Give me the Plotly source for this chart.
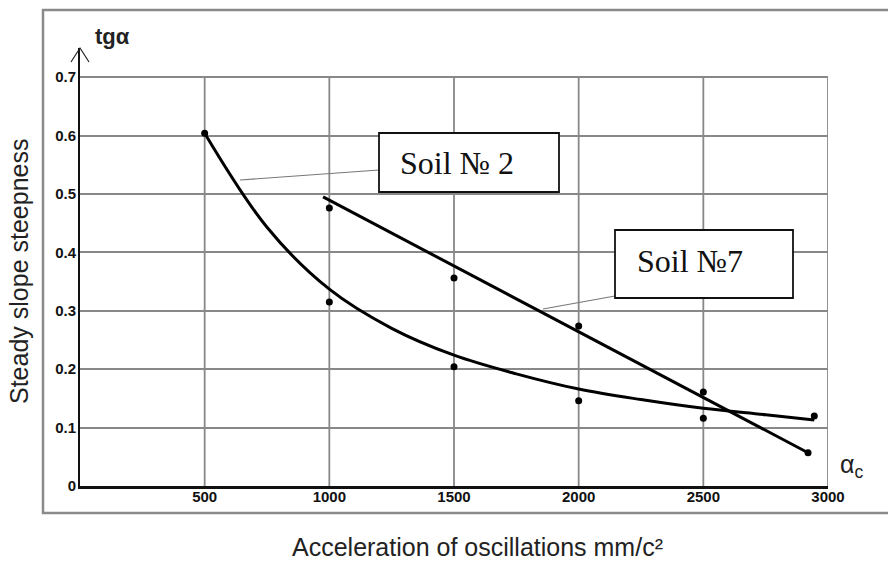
import plotly.graph_objects as go

# ---------------- data ----------------
x_ticks = [500, 1000, 1500, 2000, 2500, 3000]
x_tick_labels = ["500", "1000", "1500", "2000", "2500", "3000"]
y_ticks = [0, 0.1, 0.2, 0.3, 0.4, 0.5, 0.6, 0.7]
y_tick_labels = ["0", "0.1", "0.2", "0.3", "0.4", "0.5", "0.6", "0.7"]

# Soil No 2 measured points and its fitted curve
soil2_x = [500, 1000, 1500, 2000, 2500, 2945]
soil2_y = [0.604, 0.315, 0.204, 0.146, 0.116, 0.120]
soil2_fit_x = [500, 750, 1000, 1250, 1500, 1750, 2000, 2250, 2500, 2750, 2945]
soil2_fit_y = [0.604, 0.443, 0.337, 0.270, 0.224, 0.192, 0.166, 0.148, 0.133, 0.122, 0.113]

# Soil No 7 measured points and its fitted straight line
soil7_x = [1000, 1500, 2000, 2500, 2920]
soil7_y = [0.476, 0.356, 0.274, 0.161, 0.057]
soil7_fit_x = [975, 2920]
soil7_fit_y = [0.495, 0.057]

# ---------------- layout geometry ----------------
W, H = 888, 561
L, R, T, B = 80, 60, 48, 75
Y_MAX = 0.75
GRID_TOP = 0.7


def pxx(px):
    return (px - L) / (W - L - R)


def pyy(py):
    return (H - B - py) / (H - T - B)


fig = go.Figure()

fig.add_trace(go.Scatter(x=soil2_fit_x, y=soil2_fit_y, mode="lines",
                         line=dict(color="#000", width=3, shape="spline", smoothing=1.0),
                         hoverinfo="skip", showlegend=False))
fig.add_trace(go.Scatter(x=soil7_fit_x, y=soil7_fit_y, mode="lines",
                         line=dict(color="#000", width=3),
                         hoverinfo="skip", showlegend=False))
fig.add_trace(go.Scatter(x=soil2_x, y=soil2_y, mode="markers", name="Soil № 2",
                         marker=dict(color="#000", size=7), showlegend=False,
                         cliponaxis=False))
fig.add_trace(go.Scatter(x=soil7_x, y=soil7_y, mode="markers", name="Soil №7",
                         marker=dict(color="#000", size=7), showlegend=False,
                         cliponaxis=False))

shapes = []
grid_col = "#888888"
# vertical grid lines stop at 0.7
for xv in x_ticks:
    shapes.append(dict(type="line", xref="x", yref="y", x0=xv, x1=xv, y0=0, y1=GRID_TOP,
                       line=dict(color=grid_col, width=1.8), layer="below"))
# outer frame
shapes.append(dict(type="rect", xref="paper", yref="paper",
                   x0=pxx(43), x1=pxx(900), y0=pyy(513), y1=pyy(10),
                   line=dict(color="#8a8a8a", width=2.5), layer="below"))
# arrow head on y axis
shapes.append(dict(type="path", xref="paper", yref="paper",
                   path=f"M {pxx(71)} {pyy(62)} L {pxx(80)} {pyy(48)} L {pxx(89)} {pyy(62)}",
                   line=dict(color="#222", width=1.2)))
# leader lines
shapes.append(dict(type="line", xref="paper", yref="paper",
                   x0=pxx(240), y0=pyy(180), x1=pxx(379), y1=pyy(170),
                   line=dict(color="#777", width=1.2)))
shapes.append(dict(type="line", xref="paper", yref="paper",
                   x0=pxx(543), y0=pyy(309), x1=pxx(615), y1=pyy(296),
                   line=dict(color="#777", width=1.2)))
# label boxes
shapes.append(dict(type="rect", xref="paper", yref="paper",
                   x0=pxx(379), x1=pxx(559), y0=pyy(192), y1=pyy(133),
                   fillcolor="white", line=dict(color="#111", width=1.8), layer="above"))
shapes.append(dict(type="rect", xref="paper", yref="paper",
                   x0=pxx(615), x1=pxx(793), y0=pyy(298), y1=pyy(230),
                   fillcolor="white", line=dict(color="#111", width=1.8), layer="above"))

serif = dict(family="Liberation Serif, Times New Roman, serif", size=32, color="#111")
sans = "Liberation Sans, Arial, sans-serif"
annotations = [
    dict(text="Soil № 2", xref="paper", yref="paper", x=pxx(398), y=pyy(163),
         xanchor="left", yanchor="middle", showarrow=False, font=serif),
    dict(text="Soil №7", xref="paper", yref="paper", x=pxx(635), y=pyy(261),
         xanchor="left", yanchor="middle", showarrow=False, font=serif),
    dict(text="<b>tgα</b>", xref="paper", yref="paper", x=pxx(112), y=pyy(37),
         xanchor="center", yanchor="middle", showarrow=False,
         font=dict(family=sans, size=22, color="#222")),
    dict(text="α<sub>c</sub>", xref="paper", yref="paper", x=pxx(838), y=pyy(466),
         xanchor="left", yanchor="middle", showarrow=False,
         font=dict(family=sans, size=25, color="#222")),
    dict(text="Steady slope steepness", xref="paper", yref="paper", x=pxx(19), y=pyy(272),
         xanchor="center", yanchor="middle", textangle=-90, showarrow=False,
         font=dict(family=sans, size=25, color="#222")),
    dict(text="Acceleration of oscillations mm/c²", xref="paper", yref="paper",
         x=pxx(477), y=pyy(547), xanchor="center", yanchor="middle", showarrow=False,
         font=dict(family=sans, size=25, color="#222")),
]

tickfont = dict(family=sans, size=15, color="#111", weight="bold")

fig.update_layout(
    width=W, height=H,
    margin=dict(l=L, r=R, t=T, b=B, pad=0),
    paper_bgcolor="white", plot_bgcolor="white",
    shapes=shapes, annotations=annotations,
    xaxis=dict(range=[0, 3000], tickvals=x_ticks, ticktext=x_tick_labels,
               showgrid=False, zeroline=False, showline=True, linecolor="#111", linewidth=3,
               ticks="", tickfont=tickfont, ticklabelstandoff=-5,
               fixedrange=True),
    yaxis=dict(range=[0, Y_MAX], tickvals=y_ticks, ticktext=y_tick_labels,
               showgrid=True, gridcolor=grid_col, gridwidth=1.8, zeroline=False,
               showline=True, linecolor="#111", linewidth=2,
               ticks="", tickfont=tickfont, ticklabelstandoff=-1,
               fixedrange=True),
    showlegend=False,
)

fig.write_html("out.html")
